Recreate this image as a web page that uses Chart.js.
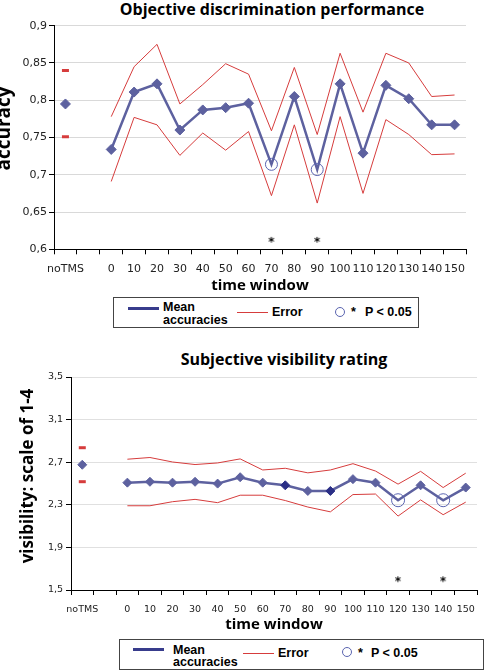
<!DOCTYPE html>
<html>
<head>
<meta charset="utf-8">
<script src="https://cdn.jsdelivr.net/npm/chart.js@4.4.1/dist/chart.umd.min.js"></script>
<style>
  body { margin: 0; background: #fff; width: 484px; height: 670px; position: relative; overflow: hidden; }
  .chart-title { position: absolute; width: 400px; text-align: center; white-space: nowrap; font: bold 16px/20px "Open Sans", sans-serif; color: #000; }
  .plot { position: absolute; left: 0; }
  .legend { position: absolute; box-sizing: border-box; border: 1px solid #444; background: #fff;
            font: bold 12.5px/13px "Liberation Sans", Arial, sans-serif; color: #000; }
  .legend > * { position: absolute; white-space: nowrap; }
  .legend .mean-line { width: 31px; height: 3px; background: #383c8c; }
  .legend .error-line { width: 31px; height: 1px; background: #d63c3c; }
  .legend .sig-circle { width: 10px; height: 10px; box-sizing: border-box; border: 1px solid #5a64b0; border-radius: 50%; }
</style>
</head>
<body>

<div class="chart-title" style="left:72px; top:-1px;">Objective discrimination performance</div>
<canvas id="accChart" class="plot" width="484" height="296" style="top:0px;"></canvas>
<div class="legend" style="left:113px; top:297px; width:306px; height:31px;">
  <div class="mean-line" style="left:14px; top:9px;"></div>
  <div style="left:49px; top:3px;">Mean<br>accuracies</div>
  <div class="error-line" style="left:123px; top:14px;"></div>
  <div style="left:158px; top:8px;">Error</div>
  <div class="sig-circle" style="left:221px; top:9px;"></div>
  <div style="left:237px; top:8px;">*</div>
  <div style="left:251px; top:8px;">P &lt; 0.05</div>
</div>

<div class="chart-title" style="left:84px; top:349px;">Subjective visibility rating</div>
<canvas id="visChart" class="plot" width="484" height="305" style="top:330px;"></canvas>
<div class="legend" style="left:119px; top:639px; width:365px; height:31px; line-height:12px;">
  <div class="mean-line" style="left:13px; top:8px;"></div>
  <div style="left:53px; top:4px;">Mean<br>accuracies</div>
  <div class="error-line" style="left:123px; top:13px;"></div>
  <div style="left:158px; top:7px;">Error</div>
  <div class="sig-circle" style="left:222px; top:7px;"></div>
  <div style="left:238px; top:7px;">*</div>
  <div style="left:251px; top:7px;">P &lt; 0.05</div>
</div>

<script>
const timeWindows = ["0", "10", "20", "30", "40", "50", "60", "70", "80", "90", "100", "110", "120", "130", "140", "150"];
const xLabels = ["noTMS", "", ...timeWindows];

// objective discrimination (accuracy)
const accMean = [0.734, 0.811, 0.822, 0.760, 0.787, 0.790, 0.796, 0.714, 0.805, 0.707, 0.822, 0.729, 0.820, 0.802, 0.767, 0.767];
const accUpper = [0.778, 0.845, 0.875, 0.795, 0.821, 0.849, 0.835, 0.759, 0.844, 0.754, 0.863, 0.784, 0.863, 0.850, 0.805, 0.807];
const accLower = [0.691, 0.777, 0.767, 0.726, 0.756, 0.733, 0.758, 0.672, 0.767, 0.662, 0.778, 0.675, 0.774, 0.754, 0.727, 0.728];
const accNoTMS = 0.795;
const accNoTMSError = [0.840, 0.751];
const accSignificant = ["70", "90"];
const accStarLevel = 0.614;
const accTicks = { min: 0.6, max: 0.9, step: 0.05 };

// subjective visibility rating
const visMean = [2.508, 2.516, 2.508, 2.516, 2.499, 2.559, 2.508, 2.483, 2.430, 2.430, 2.541, 2.508, 2.343, 2.483, 2.343, 2.462];
const visUpper = [2.728, 2.744, 2.702, 2.678, 2.693, 2.731, 2.627, 2.643, 2.600, 2.627, 2.686, 2.617, 2.494, 2.614, 2.462, 2.597];
const visLower = [2.291, 2.291, 2.329, 2.351, 2.320, 2.390, 2.390, 2.340, 2.279, 2.234, 2.396, 2.401, 2.194, 2.346, 2.207, 2.325];
const visNoTMS = 2.676;
const visNoTMSError = [2.836, 2.517];
const visSignificant = ["120", "140"];
const visDarkPoints = ["70", "90"];
const visStarLevel = 1.61;
const visTicks = { min: 1.5, max: 3.5, step: 0.4 };

const MEAN_COLOR = "#5d619f";
const DARK_COLOR = "#2b2f86";
const ERROR_COLOR = "#d63c3c";

function series(values) {
  return values.map((v, i) => ({ x: timeWindows[i], y: v }));
}

// small "*" glyph used as point style for the significance marks
function starGlyph() {
  const c = document.createElement("canvas");
  c.width = 10;
  c.height = 10;
  const g = c.getContext("2d");
  g.font = "bold 12px 'DejaVu Sans'";
  g.textAlign = "center";
  g.textBaseline = "alphabetic";
  g.fillStyle = "#000";
  g.fillText("*", 5, 12);
  return c;
}

// rotated y axis title, placed like the original (a bit above the plot centre)
const yTitlePlugin = {
  id: "yTitle",
  afterDraw(chart, args, opts) {
    const ctx = chart.ctx;
    ctx.save();
    ctx.translate(opts.x, opts.y);
    ctx.rotate(-Math.PI / 2);
    ctx.font = `bold ${opts.size}px 'Open Sans'`;
    ctx.fillStyle = "#000";
    ctx.textAlign = "center";
    ctx.textBaseline = "middle";
    ctx.fillText(opts.text, 0, 0);
    ctx.restore();
  }
};

function buildChart(canvasId, opts) {
  const sig = opts.significant;
  const dark = opts.darkPoints || [];
  const isSig = (ctx) => sig.includes(timeWindows[ctx.dataIndex]);
  const star = starGlyph();

  return new Chart(document.getElementById(canvasId), {
    type: "line",
    data: {
      labels: xLabels,
      datasets: [
        {
          label: "Mean accuracies",
          data: series(opts.mean),
          borderColor: MEAN_COLOR,
          borderWidth: 2.5,
          tension: 0,
          pointStyle: (ctx) => (isSig(ctx) ? "circle" : "rectRot"),
          pointRadius: (ctx) => (isSig(ctx) ? opts.circleRadius : opts.diamondRadius),
          pointBackgroundColor: (ctx) => {
            if (isSig(ctx)) return "rgba(0,0,0,0)";
            return dark.includes(timeWindows[ctx.dataIndex]) ? DARK_COLOR : MEAN_COLOR;
          },
          pointBorderColor: (ctx) => {
            if (isSig(ctx)) return "#5a64b0";
            return dark.includes(timeWindows[ctx.dataIndex]) ? DARK_COLOR : MEAN_COLOR;
          },
          pointBorderWidth: 1,
          order: 1
        },
        {
          label: "Error upper",
          data: series(opts.upper),
          borderColor: ERROR_COLOR,
          borderWidth: 1,
          pointRadius: 0,
          order: 2
        },
        {
          label: "Error lower",
          data: series(opts.lower),
          borderColor: ERROR_COLOR,
          borderWidth: 1,
          pointRadius: 0,
          order: 2
        },
        {
          label: "noTMS mean",
          data: [{ x: "noTMS", y: opts.noTMS }],
          showLine: false,
          pointStyle: "rectRot",
          pointRadius: opts.diamondRadius,
          pointBackgroundColor: MEAN_COLOR,
          pointBorderColor: MEAN_COLOR,
          order: 1
        },
        {
          label: "noTMS error",
          data: opts.noTMSError.map((v) => ({ x: "noTMS", y: v })),
          showLine: false,
          pointStyle: "line",
          pointRadius: 3.5,
          pointBorderWidth: 3,
          pointBorderColor: ERROR_COLOR,
          order: 2
        },
        {
          label: "P < 0.05",
          data: sig.map((t) => ({ x: t, y: opts.starLevel })),
          showLine: false,
          pointStyle: star,
          order: 0
        }
      ]
    },
    plugins: [yTitlePlugin],
    options: {
      responsive: false,
      devicePixelRatio: 1,
      animation: false,
      events: [],
      layout: { padding: opts.padding },
      plugins: {
        legend: { display: false },
        tooltip: { enabled: false },
        yTitle: opts.yTitle
      },
      scales: {
        x: {
          type: "category",
          offset: true,
          afterFit: (scale) => { scale.height = opts.xHeight; },
          grid: { offset: true, drawOnChartArea: false, tickLength: 5, tickColor: "#000" },
          border: { color: "#000" },
          ticks: {
            autoSkip: false,
            maxRotation: 0,
            minRotation: 0,
            padding: opts.xTickPadding,
            color: "#222",
            font: { family: "DejaVu Sans", size: opts.tickSize }
          },
          title: {
            display: true,
            text: "time window",
            color: "#000",
            font: { family: "Open Sans", size: 15, weight: "bold" },
            padding: { top: 0, bottom: 1 }
          }
        },
        y: {
          min: opts.ticks.min,
          max: opts.ticks.max,
          afterFit: (scale) => { scale.width = opts.yWidth; },
          grid: { color: opts.gridColor, tickLength: 5, tickColor: "#000" },
          border: { color: "#000" },
          ticks: {
            stepSize: opts.ticks.step,
            padding: opts.yTickPadding,
            color: "#222",
            font: { family: "DejaVu Sans", size: opts.tickSize },
            callback: (v) => Number(v.toFixed(2)).toString().replace(".", ",")
          }
        }
      }
    }
  });
}

buildChart("accChart", {
  mean: accMean,
  upper: accUpper,
  lower: accLower,
  noTMS: accNoTMS,
  noTMSError: accNoTMSError,
  significant: accSignificant,
  starLevel: accStarLevel,
  ticks: accTicks,
  yTitle: { text: "accuracy", size: 19, x: 5, y: 128.5 },
  yWidth: 54,
  xHeight: 46.7,
  padding: { top: 25.7, right: 18, bottom: 0, left: 0 },
  tickSize: 11,
  xTickPadding: 8,
  yTickPadding: 2,
  gridColor: "#d9d9d9",
  diamondRadius: 5,
  circleRadius: 6
});

buildChart("visChart", {
  mean: visMean,
  upper: visUpper,
  lower: visLower,
  noTMS: visNoTMS,
  noTMSError: visNoTMSError,
  significant: visSignificant,
  darkPoints: visDarkPoints,
  starLevel: visStarLevel,
  ticks: visTicks,
  yTitle: { text: "visibility: scale of 1-4", size: 17, x: 28, y: 146 },
  yWidth: 71,
  xHeight: 45,
  padding: { top: 47, right: 2, bottom: 0, left: 0 },
  tickSize: 9.5,
  xTickPadding: 9,
  yTickPadding: 3,
  gridColor: "#e0e0e0",
  diamondRadius: 4.5,
  circleRadius: 6.5
});
</script>
</body>
</html>
